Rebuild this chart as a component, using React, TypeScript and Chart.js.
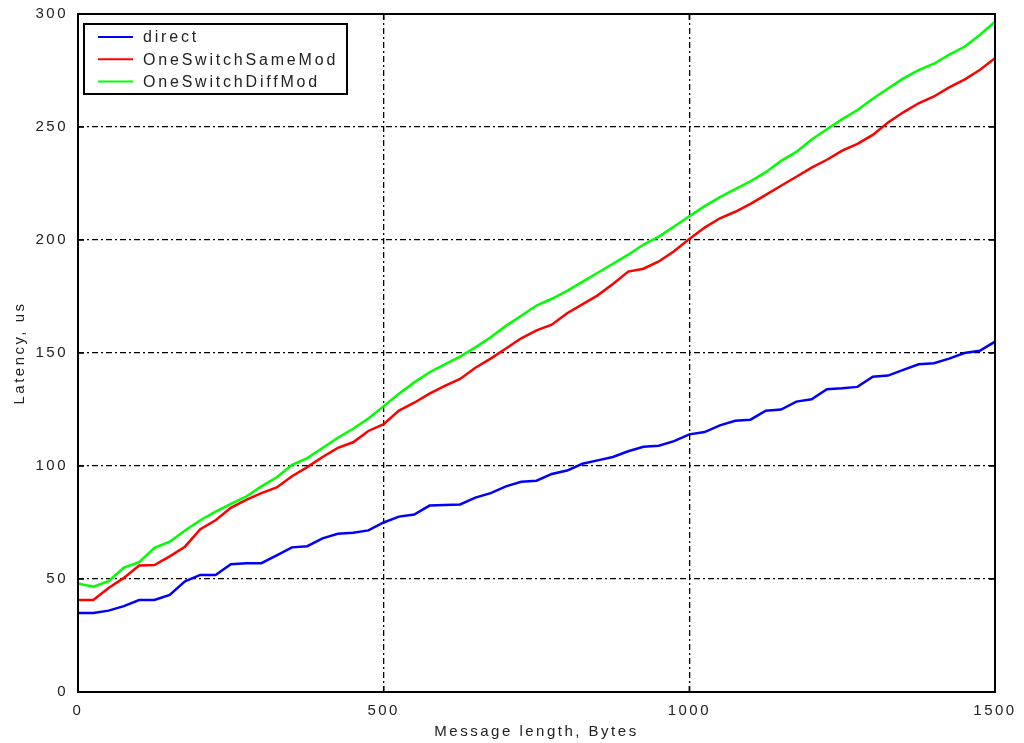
import { useEffect, useRef } from 'react';
import { Chart, registerables } from 'chart.js';

Chart.register(...registerables);

const messageLengths = [
  0, 25, 50, 75, 100, 125, 150, 175, 200, 225, 250, 275, 300, 325, 350, 375, 400, 425, 450, 475,
  500, 525, 550, 575, 600, 625, 650, 675, 700, 725, 750, 775, 800, 825, 850, 875, 900, 925, 950, 975,
  1000, 1025, 1050, 1075, 1100, 1125, 1150, 1175, 1200, 1225, 1250, 1275, 1300, 1325, 1350, 1375, 1400, 1425, 1450, 1475,
  1500,
];

const direct = [
  35, 35, 36, 38, 40.7, 40.7, 43, 49, 51.8, 51.8, 56.5, 57, 57, 60.5, 64, 64.5, 68, 70, 70.5, 71.5,
  75, 77.6, 78.5, 82.5, 82.7, 83, 86, 88, 91, 93, 93.5, 96.5, 98, 101, 102.5, 104, 106.5, 108.5, 109, 111,
  114, 115, 118, 120, 120.5, 124.5, 125, 128.5, 129.5, 134, 134.4, 135, 139.5, 140, 142.5, 145, 145.5, 147.5, 150, 151,
  155,
];

const oneSwitchSameMod = [
  40.7, 40.7, 46, 50.5, 56, 56.2, 60, 64.3, 72, 76, 81.5, 85, 88, 90.5, 95.5, 99.5, 104, 108, 110.5, 115.5,
  118.5, 124.5, 128, 132, 135.5, 138.5, 143.5, 147.5, 152, 156.5, 160, 162.5, 167.6, 171.5, 175.5, 180.5, 186, 187.3, 190.5, 195,
  200.5, 205.5, 209.6, 212.5, 216, 220, 224, 228, 232, 235.5, 239.5, 242.5, 246.5, 252, 256.5, 260.5, 263.5, 267.5, 271, 275.2,
  280.4,
];

const oneSwitchDiffMod = [
  48, 46.6, 49, 55, 57.5, 63.8, 66.5, 71.5, 76, 79.8, 83.2, 86.5, 91, 95, 100.5, 103.5, 108, 112.5, 116.5, 121,
  126.5, 132, 137, 141.5, 145, 148.4, 152.5, 157, 162, 166.5, 171, 174, 177.5, 181.5, 185.5, 189.5, 193.5, 198, 201.5, 206,
  210.5, 215, 219, 222.5, 226, 230, 235, 239, 244.5, 249, 253.5, 257.5, 262.5, 267, 271.5, 275.2, 278, 282, 285.5, 290.7,
  296.6,
];

const xTicks = [0, 500, 1000, 1500];
const yTicks = [0, 50, 100, 150, 200, 250, 300];
const seriesNames = ['direct', 'OneSwitchSameMod', 'OneSwitchDiffMod'];
const seriesColors = ['#0000ff', '#ff0000', '#00ff00'];
const seriesValues = [direct, oneSwitchSameMod, oneSwitchDiffMod];
const xTitle = 'Message length, Bytes';
const yTitle = 'Latency, us';

const FONT = "'Liberation Sans', Arial, sans-serif";
const TEXT_COLOR = '#222';

const spacingPlugin = {
  id: 'spacing',
  beforeLayout(chart: any) {
    chart.ctx.letterSpacing = '2.5px';
  },
  beforeDraw(chart: any) {
    chart.ctx.letterSpacing = '2.5px';
  },
};

const framePlugin = {
  id: 'frame',
  afterDatasetsDraw(chart: any) {
    const { ctx, chartArea } = chart;
    const { left, right, top, bottom } = chartArea;
    const xs = chart.scales.x;
    const ys = chart.scales.y;
    ctx.save();
    ctx.strokeStyle = '#000';
    ctx.setLineDash([]);
    ctx.lineWidth = 1.5;
    const tl = 6;
    ctx.beginPath();
    xTicks.forEach((v) => {
      const px = xs.getPixelForValue(v);
      ctx.moveTo(px, bottom);
      ctx.lineTo(px, bottom - tl);
      ctx.moveTo(px, top);
      ctx.lineTo(px, top + tl);
    });
    yTicks.forEach((v) => {
      const py = ys.getPixelForValue(v);
      ctx.moveTo(left, py);
      ctx.lineTo(left + tl, py);
      ctx.moveTo(right, py);
      ctx.lineTo(right - tl, py);
    });
    ctx.stroke();
    ctx.lineWidth = 2;
    ctx.strokeRect(left, top, right - left, bottom - top);
    ctx.restore();
  },
  afterDraw(chart: any) {
    const { ctx, chartArea } = chart;
    const bx = chartArea.left + 6;
    const by = chartArea.top + 10;
    const bw = 263;
    const bh = 70;
    ctx.save();
    ctx.setLineDash([]);
    ctx.fillStyle = '#fff';
    ctx.fillRect(bx, by, bw, bh);
    ctx.strokeStyle = '#000';
    ctx.lineWidth = 2;
    ctx.strokeRect(bx, by, bw, bh);
    ctx.font = `16px ${FONT}`;
    ctx.letterSpacing = '2.8px';
    ctx.textBaseline = 'middle';
    ctx.textAlign = 'left';
    chart.data.datasets.forEach((ds: any, i: number) => {
      const ly = by + 13 + i * 22.3;
      ctx.strokeStyle = ds.borderColor;
      ctx.lineWidth = 2;
      ctx.beginPath();
      ctx.moveTo(bx + 14, ly);
      ctx.lineTo(bx + 49, ly);
      ctx.stroke();
      ctx.fillStyle = TEXT_COLOR;
      ctx.fillText(ds.label, bx + 59, ly + 1);
    });
    ctx.restore();
  },
};

export default function App() {
  const canvasRef = useRef<HTMLCanvasElement | null>(null);

  useEffect(() => {
    const canvas = canvasRef.current;
    if (!canvas) return;
    const datasets = seriesNames.map((name, i) => ({
      label: name,
      data: messageLengths.map((x, j) => ({ x, y: seriesValues[i][j] })),
      borderColor: seriesColors[i],
      backgroundColor: seriesColors[i],
      borderWidth: 2.5,
      pointRadius: 0,
      tension: 0,
      fill: false,
    }));

    const edgeX = (v: number) => v === xTicks[0] || v === xTicks[xTicks.length - 1];
    const edgeY = (v: number) => v === yTicks[0] || v === yTicks[yTicks.length - 1];

    const chart = new Chart(canvas, {
      type: 'line',
      data: { datasets },
      options: {
        animation: false,
        responsive: false,
        maintainAspectRatio: false,
        layout: { padding: { left: 0, top: 14, right: 29, bottom: 0 } },
        plugins: {
          legend: { display: false },
          tooltip: { enabled: false },
        },
        scales: {
          x: {
            type: 'linear',
            min: 0,
            max: 1500,
            afterBuildTicks: (scale: any) => {
              scale.ticks = xTicks.map((v) => ({ value: v }));
            },
            afterFit: (scale: any) => {
              scale.height = 51;
              scale.paddingLeft = 0;
              scale.paddingRight = 0;
            },
            grid: {
              color: (c: any) => (c.tick && edgeX(c.tick.value) ? 'rgba(0,0,0,0)' : '#000'),
              lineWidth: 1.3,
              drawTicks: false,
            },
            border: { display: false, dash: [6, 3, 2, 3] },
            ticks: {
              padding: 10,
              color: TEXT_COLOR,
              font: { family: FONT, size: 15 },
              maxRotation: 0,
              callback: (v: any) => String(v),
            },
            title: {
              display: true,
              text: xTitle,
              color: TEXT_COLOR,
              font: { family: FONT, size: 15 },
              padding: { top: 0, bottom: 2 },
            },
          },
          y: {
            type: 'linear',
            min: 0,
            max: 300,
            afterBuildTicks: (scale: any) => {
              scale.ticks = yTicks.map((v) => ({ value: v }));
            },
            afterFit: (scale: any) => {
              scale.width = 78;
              scale.paddingTop = 0;
              scale.paddingBottom = 0;
            },
            grid: {
              color: (c: any) => (c.tick && edgeY(c.tick.value) ? 'rgba(0,0,0,0)' : '#000'),
              lineWidth: 1.3,
              drawTicks: false,
            },
            border: { display: false, dash: [6, 3, 2, 3] },
            ticks: {
              padding: 10,
              color: TEXT_COLOR,
              font: { family: FONT, size: 15 },
              callback: (v: any) => String(v),
            },
            title: {
              display: true,
              text: yTitle,
              color: TEXT_COLOR,
              font: { family: FONT, size: 15 },
              padding: { top: 11, bottom: 0 },
            },
          },
        },
      },
      plugins: [spacingPlugin, framePlugin],
    } as any);

    return () => chart.destroy();
  }, []);

  return (
    <div style={{ position: 'absolute', left: 0, top: 0, width: 1024, height: 743 }}>
      <canvas ref={canvasRef} width={1024} height={743} />
    </div>
  );
}
